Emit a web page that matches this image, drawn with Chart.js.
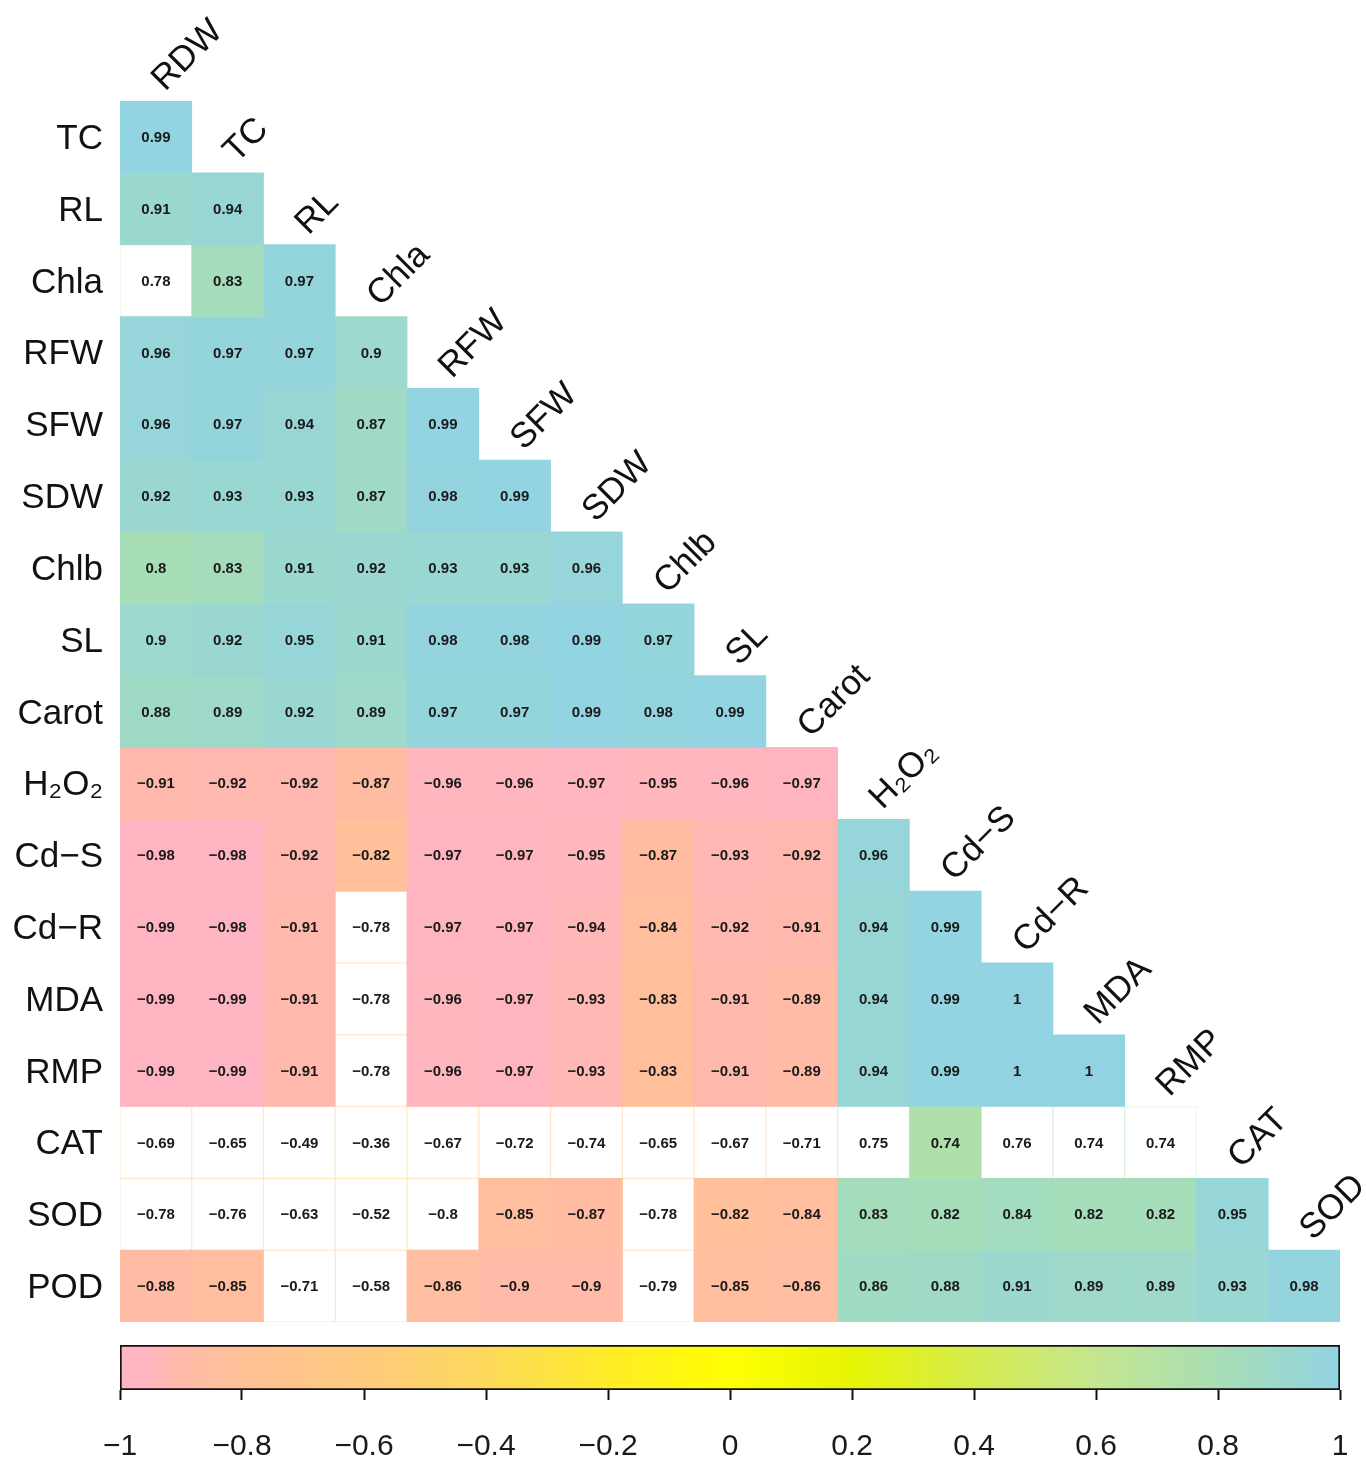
<!DOCTYPE html>
<html>
<head>
<meta charset="utf-8">
<title>Correlation heatmap</title>
<script src="https://cdn.jsdelivr.net/npm/chart.js@4.4.0/dist/chart.umd.min.js"></script>
<style>
  html, body { margin: 0; padding: 0; background: #ffffff; }
  #wrap { position: relative; width: 1366px; height: 1461px; }
  #heat { position: absolute; left: 0; top: 0; width: 1366px; height: 1330px; }
  #scale { position: absolute; left: 0; top: 1330px; width: 1366px; height: 131px; }
</style>
</head>
<body>
<div id="wrap">
  <canvas id="heat" width="1366" height="1330"></canvas>
  <canvas id="scale" width="1366" height="131"></canvas>
</div>
<script>
// Variables of the lower-triangular correlation matrix
const columns = ["RDW", "TC", "RL", "Chla", "RFW", "SFW", "SDW", "Chlb", "SL", "Carot",
                 "H₂O₂", "Cd−S", "Cd−R", "MDA", "RMP", "CAT", "SOD"];
const rows = ["TC", "RL", "Chla", "RFW", "SFW", "SDW", "Chlb", "SL", "Carot",
              "H₂O₂", "Cd−S", "Cd−R", "MDA", "RMP", "CAT", "SOD", "POD"];

// Pearson coefficients, one array per row (left to right)
const rTC    = [0.99];
const rRL    = [0.91, 0.94];
const rChla  = [0.78, 0.83, 0.97];
const rRFW   = [0.96, 0.97, 0.97, 0.9];
const rSFW   = [0.96, 0.97, 0.94, 0.87, 0.99];
const rSDW   = [0.92, 0.93, 0.93, 0.87, 0.98, 0.99];
const rChlb  = [0.8, 0.83, 0.91, 0.92, 0.93, 0.93, 0.96];
const rSL    = [0.9, 0.92, 0.95, 0.91, 0.98, 0.98, 0.99, 0.97];
const rCarot = [0.88, 0.89, 0.92, 0.89, 0.97, 0.97, 0.99, 0.98, 0.99];
const rH2O2  = [-0.91, -0.92, -0.92, -0.87, -0.96, -0.96, -0.97, -0.95, -0.96, -0.97];
const rCdS   = [-0.98, -0.98, -0.92, -0.82, -0.97, -0.97, -0.95, -0.87, -0.93, -0.92, 0.96];
const rCdR   = [-0.99, -0.98, -0.91, -0.78, -0.97, -0.97, -0.94, -0.84, -0.92, -0.91, 0.94, 0.99];
const rMDA   = [-0.99, -0.99, -0.91, -0.78, -0.96, -0.97, -0.93, -0.83, -0.91, -0.89, 0.94, 0.99, 1];
const rRMP   = [-0.99, -0.99, -0.91, -0.78, -0.96, -0.97, -0.93, -0.83, -0.91, -0.89, 0.94, 0.99, 1, 1];
const rCAT   = [-0.69, -0.65, -0.49, -0.36, -0.67, -0.72, -0.74, -0.65, -0.67, -0.71, 0.75, 0.74, 0.76, 0.74, 0.74];
const rSOD   = [-0.78, -0.76, -0.63, -0.52, -0.8, -0.85, -0.87, -0.78, -0.82, -0.84, 0.83, 0.82, 0.84, 0.82, 0.82, 0.95];
const rPOD   = [-0.88, -0.85, -0.71, -0.58, -0.86, -0.9, -0.9, -0.79, -0.85, -0.86, 0.86, 0.88, 0.91, 0.89, 0.89, 0.93, 0.98];

const corr = [rTC, rRL, rChla, rRFW, rSFW, rSDW, rChlb, rSL, rCarot,
              rH2O2, rCdS, rCdR, rMDA, rRMP, rCAT, rSOD, rPOD];

// Pairs that are not significant: left blank (white)
const notSignificant = {
  "Chla": ["RDW"],
  "Cd−R": ["Chla"],
  "MDA":  ["Chla"],
  "RMP":  ["Chla"],
  "CAT":  ["RDW", "TC", "RL", "Chla", "RFW", "SFW", "SDW", "Chlb", "SL", "Carot", "H₂O₂", "Cd−R", "MDA", "RMP"],
  "SOD":  ["RDW", "TC", "RL", "Chla", "RFW", "Chlb"],
  "POD":  ["RL", "Chla", "Chlb"]
};

// Colour key
const colorKeyStops  = [-1, -0.95, -0.9, -0.8, -0.6, -0.4, -0.2, 0, 0.2, 0.4, 0.6, 0.8, 1];
const colorKeyValues = ["#FFB4C4", "#FFB6BC", "#FFBAA8", "#FFC196", "#FECA7E", "#FDD95C", "#FFEC28", "#FFFF00",
                        "#E6F404", "#D6EC4E", "#C4E690", "#A8DEB5", "#91D3E3"];
const colorKeyTicks  = [-1, -0.8, -0.6, -0.4, -0.2, 0, 0.2, 0.4, 0.6, 0.8, 1];

const FONT = '"Liberation Sans", Arial, Helvetica, sans-serif';

function hexToRgb(h) {
  const n = parseInt(h.slice(1), 16);
  return [(n >> 16) & 255, (n >> 8) & 255, n & 255];
}
function rgbFor(v) {
  const s = colorKeyStops;
  let k = 0;
  while (k < s.length - 2 && v > s[k + 1]) k++;
  const t = Math.min(1, Math.max(0, (v - s[k]) / (s[k + 1] - s[k])));
  const a = hexToRgb(colorKeyValues[k]), b = hexToRgb(colorKeyValues[k + 1]);
  return a.map((c, i) => Math.round(c + (b[i] - c) * t));
}
function fmt(v) {
  const r = Math.round(v * 100) / 100;
  return (r < 0 ? "−" : "") + String(Math.abs(r));
}
function isBlank(row, col) {
  return (notSignificant[row] || []).includes(col);
}

// One floating-bar dataset per matrix row: each cell spans [row, row + 1]
const datasets = rows.map((rowName, i) => {
  const vals = corr[i];
  return {
    label: rowName,
    data: columns.map((c, j) => (j < vals.length ? [i, i + 1] : null)),
    backgroundColor: columns.map((c, j) => {
      if (j >= vals.length) return "rgba(0,0,0,0)";
      if (isBlank(rowName, c)) return "#ffffff";
      const [r, g, b] = rgbFor(vals[j]);
      return `rgb(${r},${g},${b})`;
    }),
    borderColor: columns.map((c, j) => {
      if (j >= vals.length) return "rgba(0,0,0,0)";
      const [r, g, b] = rgbFor(vals[j]);
      return `rgba(${r},${g},${b},0.35)`;
    }),
    borderWidth: columns.map((c, j) => (j < vals.length && isBlank(rowName, c) ? 1 : 0)),
    borderSkipped: false,
    barPercentage: 1,
    categoryPercentage: 1,
    grouped: false
  };
});

// Values inside cells, row names on the left, rotated column names on the diagonal
const matrixText = {
  id: "matrixText",
  afterDatasetsDraw(chart) {
    const ctx = chart.ctx;
    const xs = chart.scales.x, ys = chart.scales.y;
    ctx.save();

    ctx.font = "bold 15px " + FONT;
    ctx.fillStyle = "#1a1a1a";
    ctx.textAlign = "center";
    ctx.textBaseline = "middle";
    corr.forEach((vals, i) => {
      vals.forEach((v, j) => {
        ctx.fillText(fmt(v), xs.getPixelForValue(j), ys.getPixelForValue(i + 0.5) + 1);
      });
    });

    ctx.font = "35px " + FONT;
    ctx.fillStyle = "#111111";
    ctx.textAlign = "right";
    ctx.textBaseline = "alphabetic";
    rows.forEach((r, i) => {
      ctx.fillText(r, xs.left - 17, ys.getPixelForValue(i + 0.5) + 12);
    });

    ctx.textAlign = "left";
    columns.forEach((c, j) => {
      ctx.save();
      ctx.translate(xs.getPixelForValue(j) + 9, ys.getPixelForValue(j) - 9);
      ctx.rotate(-Math.PI / 4);
      ctx.fillText(c, 0, 0);
      ctx.restore();
    });
    ctx.restore();
  }
};

new Chart(document.getElementById("heat"), {
  type: "bar",
  data: { labels: columns, datasets },
  options: {
    responsive: false,
    animation: false,
    layout: { padding: { left: 120, right: 26, top: 101, bottom: 8 } },
    plugins: { legend: { display: false }, tooltip: { enabled: false } },
    scales: {
      x: { type: "category", display: false, offset: true },
      y: { type: "linear", min: 0, max: 17, reverse: true, display: false }
    }
  },
  plugins: [matrixText]
});

// Colour key bar with its axis
new Chart(document.getElementById("scale"), {
  type: "bar",
  data: {
    labels: ["r"],
    datasets: [{
      data: [[-1, 1]],
      backgroundColor: (c) => {
        const area = c.chart.chartArea;
        if (!area) return "#ffffff";
        const g = c.chart.ctx.createLinearGradient(area.left, 0, area.right, 0);
        colorKeyStops.forEach((s, k) => g.addColorStop((s + 1) / 2, colorKeyValues[k]));
        return g;
      },
      borderColor: "#111111",
      borderWidth: 2,
      borderSkipped: false,
      barPercentage: 1,
      categoryPercentage: 1
    }]
  },
  options: {
    indexAxis: "y",
    responsive: false,
    animation: false,
    layout: { padding: { left: 120, right: 26, top: 15, bottom: 0 } },
    plugins: { legend: { display: false }, tooltip: { enabled: false } },
    scales: {
      x: {
        type: "linear",
        min: -1,
        max: 1,
        position: "bottom",
        afterBuildTicks: (s) => { s.ticks = colorKeyTicks.map(v => ({ value: v })); },
        afterFit: (s) => { s.height = 71; s.paddingLeft = 0; s.paddingRight = 0; },
        ticks: {
          autoSkip: false,
          maxRotation: 0,
          padding: 29,
          color: "#1a1a1a",
          font: { size: 30, family: FONT },
          callback: (v) => fmt(v)
        },
        grid: { drawOnChartArea: false, tickLength: 10, tickWidth: 2, tickColor: "#111111" },
        border: { display: false }
      },
      y: { display: false }
    }
  }
});
</script>
</body>
</html>
